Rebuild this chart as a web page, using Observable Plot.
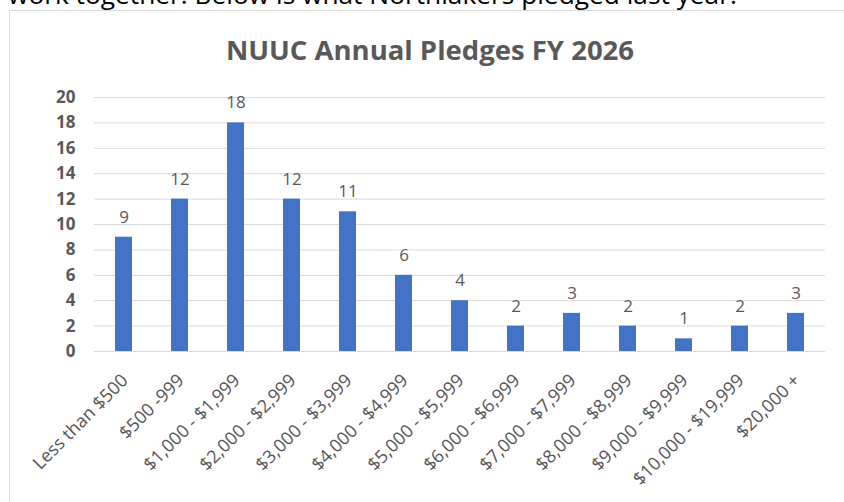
<!DOCTYPE html>
<html><head><meta charset="utf-8">
<script src="https://cdn.jsdelivr.net/npm/d3@7"></script>
<script src="https://cdn.jsdelivr.net/npm/@observablehq/plot@0.6"></script>
<style>
html,body{margin:0;padding:0;background:#fff;overflow:hidden;}
#wrap{position:relative;width:844px;height:502px;font-family:"Open Sans",sans-serif;overflow:hidden;}
#intro{position:absolute;left:8px;top:-19px;font-size:26.3px;line-height:26px;color:#000;white-space:nowrap;}
#box{position:absolute;left:9px;top:10px;width:850px;height:500px;border:1px solid #d9d9d9;box-sizing:border-box;}
#title{position:absolute;left:8px;width:844px;top:32px;line-height:36px;text-align:center;font-size:27.5px;font-weight:bold;color:#595959;}
#chart{position:absolute;left:0;top:0;}
</style></head>
<body><div id="wrap">
<div id="intro">work together. Below is what Northlakers pledged last year.</div>
<div id="box"></div>
<div id="title">NUUC Annual Pledges FY 2026</div>
<div id="chart"></div>
</div>
<script>
const categories = ["Less than $500","$500 -999","$1,000 - $1,999","$2,000 - $2,999","$3,000 - $3,999","$4,000 - $4,999","$5,000 - $5,999","$6,000 - $6,999","$7,000 - $7,999","$8,000 - $8,999","$9,000 - $9,999","$10,000 - $19,999","$20,000 +"];
const pledges = [9,12,18,12,11,6,4,2,3,2,1,2,3];
const yTicks = [0,2,4,6,8,10,12,14,16,18,20];

const data = categories.map((c,i)=>({cat:c, n:pledges[i]}));

const chart = Plot.plot({
  width: 844, height: 502,
  marginTop: 97, marginBottom: 151, marginLeft: 94, marginRight: 19,
  style: {fontFamily: "'Open Sans', sans-serif", background: "transparent", overflow: "visible"},
  x: {domain: categories, paddingInner: 0.7, paddingOuter: 0.35, axis: null},
  y: {domain: [0,20], axis: null},
  marks: [
    Plot.ruleY(yTicks, {stroke: "#d9d9d9", strokeWidth: 1}),
    Plot.barY(data, {x: "cat", y: "n", fill: "#4472c4"}),
    Plot.text(data, {x: "cat", y: "n", text: d => String(d.n), dy: -20, lineAnchor: "middle", fontSize: 17, fill: "#595959"}),
    Plot.text(data, {x: "cat", frameAnchor: "bottom", text: "cat", rotate: -45, textAnchor: "end", lineAnchor: "middle", dy: 26, dx: 1, fontSize: 18, fill: "#555555"}),
    Plot.axisY({ticks: yTicks, tickSize: 0, tickPadding: 19, fontSize: 17, fontWeight: "bold", fill: "#595959", color: "#595959", label: null})
  ]
});
document.getElementById("chart").appendChild(chart);
</script>
</body></html>
